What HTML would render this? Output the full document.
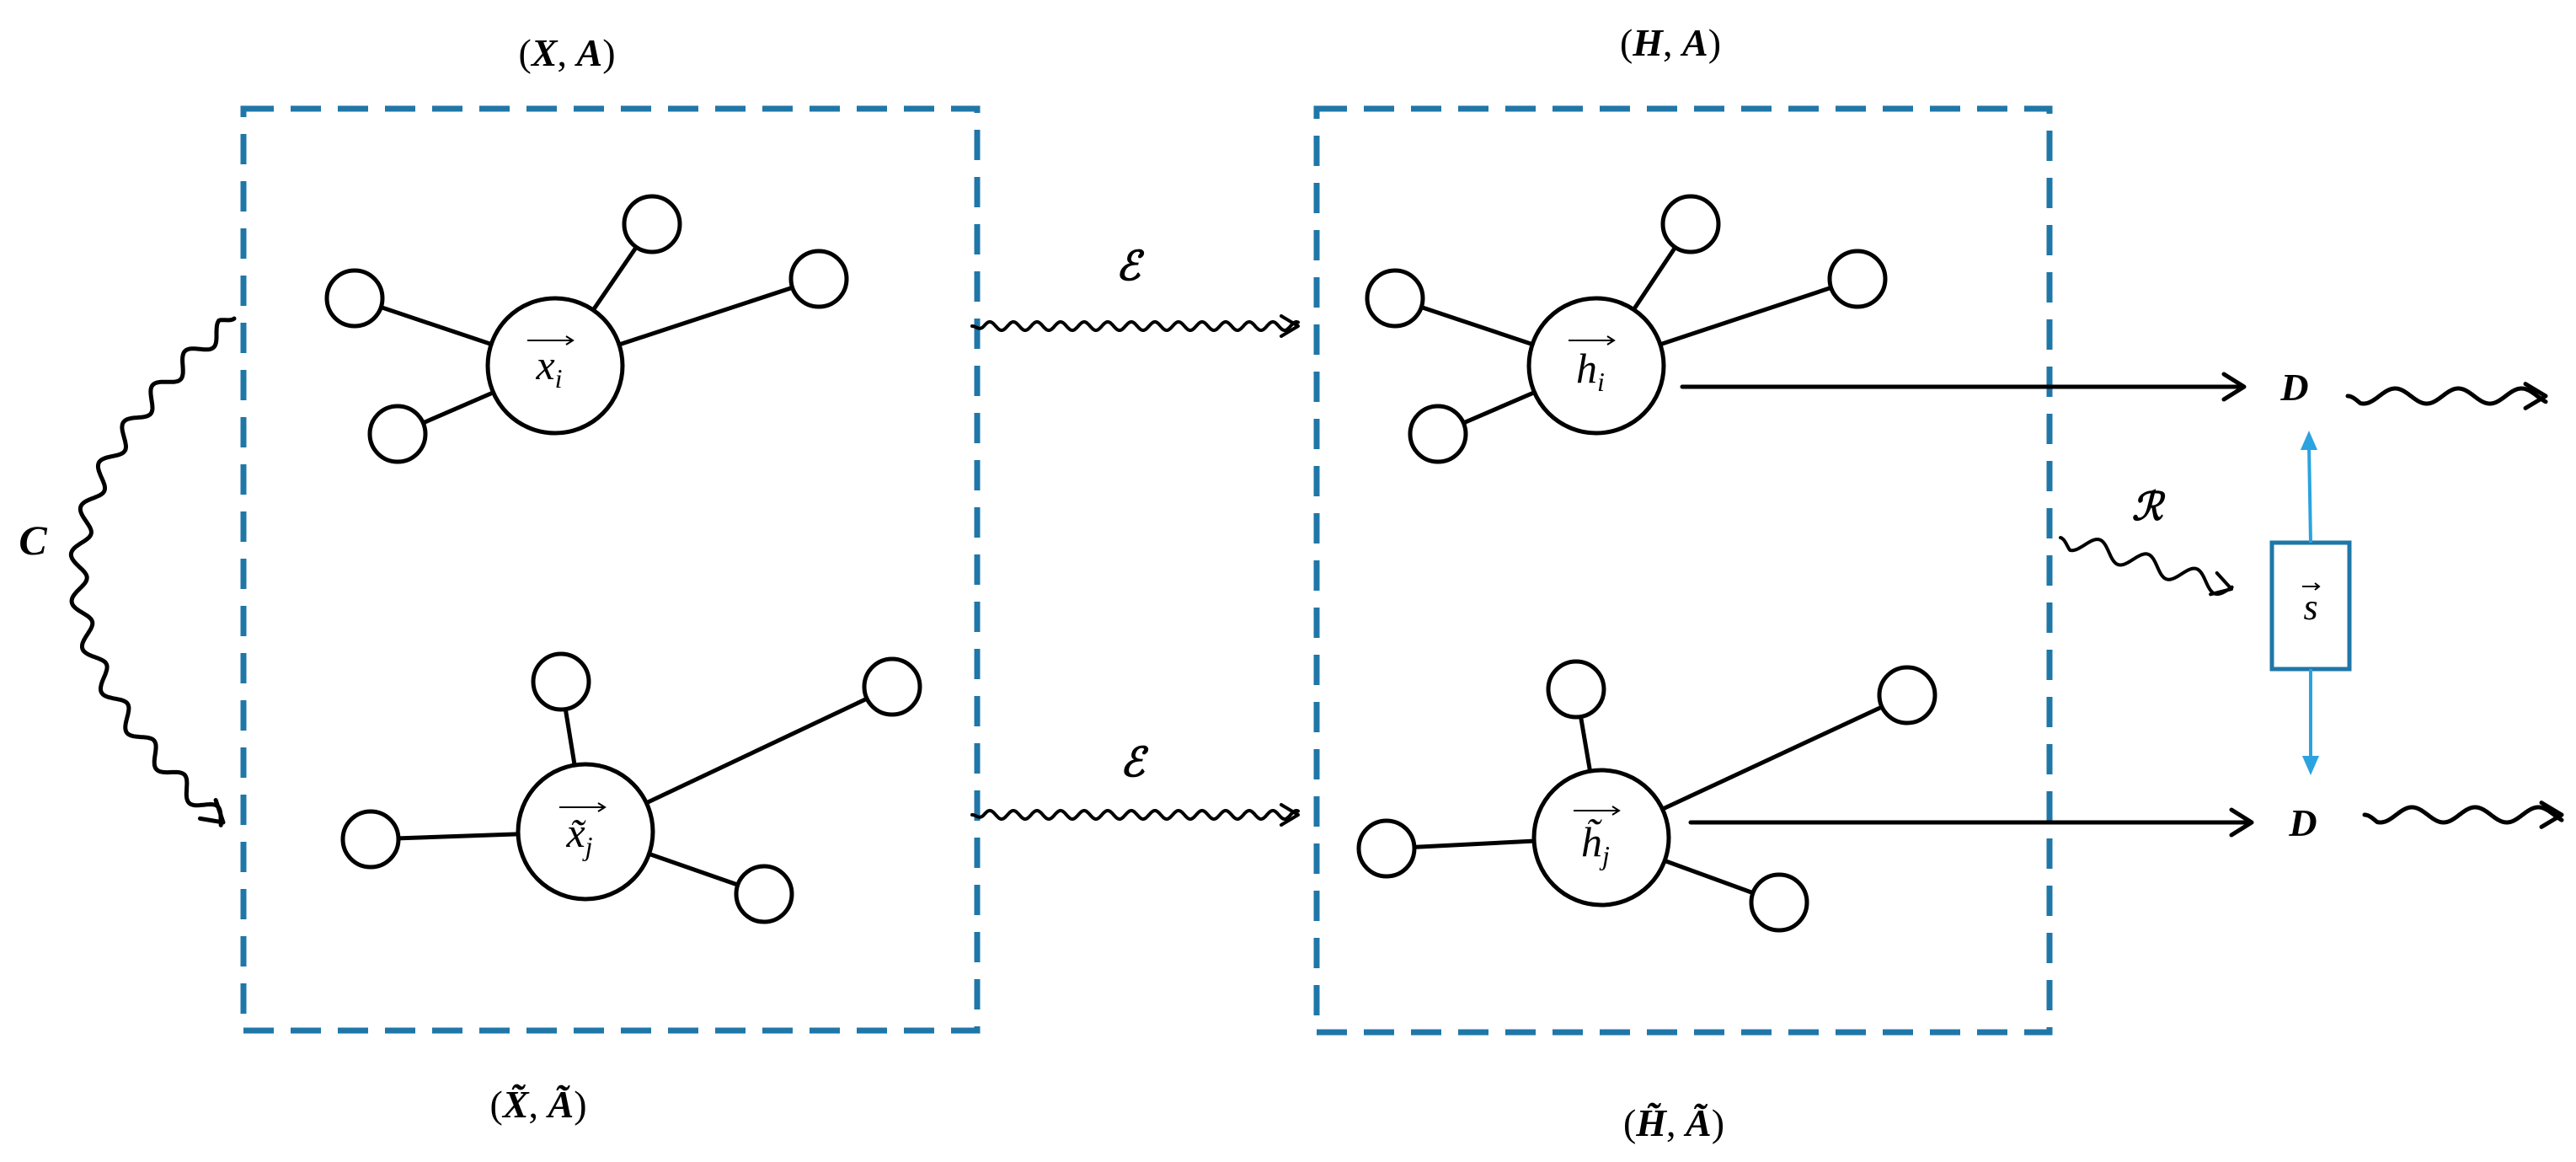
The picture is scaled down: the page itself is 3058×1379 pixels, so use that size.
<!DOCTYPE html>
<html><head><meta charset="utf-8"><style>
html,body{margin:0;padding:0;background:#fff;overflow:hidden;}
svg{display:block;}
text{font-family:"Liberation Serif","DejaVu Serif",serif;}
</style></head><body>
<svg id="s" width="3058" height="1379" viewBox="0 0 3058 1379" xmlns="http://www.w3.org/2000/svg">
<g fill="none" stroke="#1f77a8" stroke-width="7" stroke-dasharray="36,20">
<rect x="289" y="129" width="871" height="1094"/>
<rect x="1563" y="129" width="870" height="1096"/>
</g>
<g stroke="#000" stroke-width="5" fill="#fff">
<line x1="659" y1="434" x2="421" y2="354"/><line x1="659" y1="434" x2="774" y2="266"/><line x1="659" y1="434" x2="972" y2="331"/><line x1="659" y1="434" x2="472" y2="515"/>
<line x1="695" y1="987" x2="666" y2="809"/><line x1="695" y1="987" x2="1059" y2="815"/><line x1="695" y1="987" x2="440" y2="996"/><line x1="695" y1="987" x2="907" y2="1061"/>
<line x1="1895" y1="434" x2="1656" y2="354"/><line x1="1895" y1="434" x2="2007" y2="266"/><line x1="1895" y1="434" x2="2205" y2="331"/><line x1="1895" y1="434" x2="1707" y2="515"/>
<line x1="1901" y1="994" x2="1871" y2="818"/><line x1="1901" y1="994" x2="2264" y2="825"/><line x1="1901" y1="994" x2="1646" y2="1007"/><line x1="1901" y1="994" x2="2112" y2="1071"/>
<circle cx="659" cy="434" r="80"/><circle cx="695" cy="987" r="80"/><circle cx="1895" cy="434" r="80"/><circle cx="1901" cy="994" r="80"/>
<circle cx="421" cy="354" r="33"/><circle cx="774" cy="266" r="33"/><circle cx="972" cy="331" r="33"/><circle cx="472" cy="515" r="33"/>
<circle cx="666" cy="809" r="33"/><circle cx="1059" cy="815" r="33"/><circle cx="440" cy="996" r="33"/><circle cx="907" cy="1061" r="33"/>
<circle cx="1656" cy="354" r="33"/><circle cx="2007" cy="266" r="33"/><circle cx="2205" cy="331" r="33"/><circle cx="1707" cy="515" r="33"/>
<circle cx="1871" cy="818" r="33"/><circle cx="2264" cy="825" r="33"/><circle cx="1646" cy="1007" r="33"/><circle cx="2112" cy="1071" r="33"/>
</g>
<g font-style="italic" font-size="50" fill="#000" text-anchor="middle">
<text x="652" y="450">x<tspan font-size="32" dy="10">i</tspan></text>
<text x="688" y="1005">x̃<tspan font-size="32" dy="10">j</tspan></text>
<text x="1888" y="454">h<tspan font-size="32" dy="10">i</tspan></text>
<text x="1894" y="1016">h̃<tspan font-size="32" dy="10">j</tspan></text>
<text x="2743" y="735" font-size="44">s</text>
</g>
<g stroke="#000" stroke-width="2" fill="none">
<path d="M626 404 H680 M672 399 L680 404 L672 409"/>
<path d="M664 958 H718 M710 953 L718 958 L710 963"/>
<path d="M1862 404 H1916 M1908 399 L1916 404 L1908 409"/>
<path d="M1868 962 H1922 M1914 957 L1922 962 L1914 967"/>
<path d="M2733 696 H2753 M2748 692 L2753 696 L2748 700"/>
</g>
<g font-size="46" fill="#000" text-anchor="middle">
<text x="673" y="78">(<tspan font-weight="bold" font-style="italic">X</tspan>, <tspan font-weight="bold" font-style="italic">A</tspan>)</text>
<text x="1983" y="66">(<tspan font-weight="bold" font-style="italic">H</tspan>, <tspan font-weight="bold" font-style="italic">A</tspan>)</text>
<text x="639" y="1326">(<tspan font-weight="bold" font-style="italic">X̃</tspan>, <tspan font-weight="bold" font-style="italic">Ã</tspan>)</text>
<text x="1987" y="1348">(<tspan font-weight="bold" font-style="italic">H̃</tspan>, <tspan font-weight="bold" font-style="italic">Ã</tspan>)</text>
<text x="39" y="658" font-style="italic" font-weight="bold" font-size="50">C</text>
<text x="1339" y="332" font-style="italic" font-weight="bold" font-size="48">ℰ</text>
<text x="1344" y="921" font-style="italic" font-weight="bold" font-size="48">ℰ</text>
<text x="2549" y="617" font-style="italic" font-weight="bold" font-size="46">ℛ</text>
<text x="2724" y="475" font-style="italic" font-weight="bold" font-size="46">D</text>
<text x="2734" y="992" font-style="italic" font-weight="bold" font-size="46">D</text>
</g>
<g stroke="#000" stroke-width="5" fill="none" stroke-linecap="round" stroke-linejoin="round">
<line x1="1997" y1="459" x2="2662" y2="459"/><path d="M2640 444 L2664 459 L2640 474"/>
<line x1="2007" y1="976" x2="2671" y2="976"/><path d="M2649 961 L2673 976 L2649 991"/>
</g>
<rect x="2697" y="644" width="92" height="150" fill="none" stroke="#1f77a8" stroke-width="5"/>
<g stroke="#2aa3e0" stroke-width="4" fill="#2aa3e0">
<line x1="2743" y1="644" x2="2741" y2="528"/><path d="M2741 516 L2734 532 L2748 532 Z"/>
<line x1="2743" y1="794" x2="2743" y2="903"/><path d="M2743 915 L2736 899 L2750 899 Z"/>
</g>
<g id="waves" stroke="#000" fill="none" stroke-linecap="round" stroke-linejoin="round"></g>
<script>
(function(){
var g=document.getElementById('waves');var NS='http://www.w3.org/2000/svg';
function wave(p0,p1,p2,lam,amp,w,head){
var pts=[],N=600,s=0,prev=null;
for(var i=0;i<=N;i++){var t=i/N,u=1-t;
var x=u*u*p0[0]+2*u*t*p1[0]+t*t*p2[0],y=u*u*p0[1]+2*u*t*p1[1]+t*t*p2[1];
var dx=2*u*(p1[0]-p0[0])+2*t*(p2[0]-p1[0]),dy=2*u*(p1[1]-p0[1])+2*t*(p2[1]-p1[1]);
var L=Math.sqrt(dx*dx+dy*dy)||1;
if(prev){s+=Math.hypot(x-prev[0],y-prev[1]);}prev=[x,y];
var taper=Math.min(1,s/15);
var o=amp*Math.sin(2*Math.PI*s/lam)*taper;
pts.push((x-dy/L*o).toFixed(1)+','+(y+dx/L*o).toFixed(1));}
var p=document.createElementNS(NS,'path');p.setAttribute('d','M'+pts.join(' L'));p.setAttribute('stroke-width',w);g.appendChild(p);
var dx=p2[0]-p1[0],dy=p2[1]-p1[1],L=Math.hypot(dx,dy);dx/=L;dy/=L;
var hx=p2[0],hy=p2[1],a=head,b=head*0.6;
var h=document.createElementNS(NS,'path');
h.setAttribute('d','M'+(hx-dx*a-dy*b)+','+(hy-dy*a+dx*b)+' L'+hx+','+hy+' L'+(hx-dx*a+dy*b)+','+(hy-dy*a-dx*b));
h.setAttribute('stroke-width',w);g.appendChild(h);}
function line(a,b,lam,amp,w,head){wave(a,[(a[0]+b[0])/2,(a[1]+b[1])/2],b,lam,amp,w,head);}
wave([278,378],[-85,677],[265,976],55,10,5,24);
line([1154,387],[1541,387],28,5,4,20);
line([1154,967],[1541,967],28,5,4,20);
line([2787,470],[3022,470],75,9,5,24);
line([2807,967],[3041,967],75,9,5,24);
line([2446,638],[2649,699],60,11,4,22);
})();
</script>
</svg>
</body></html>
